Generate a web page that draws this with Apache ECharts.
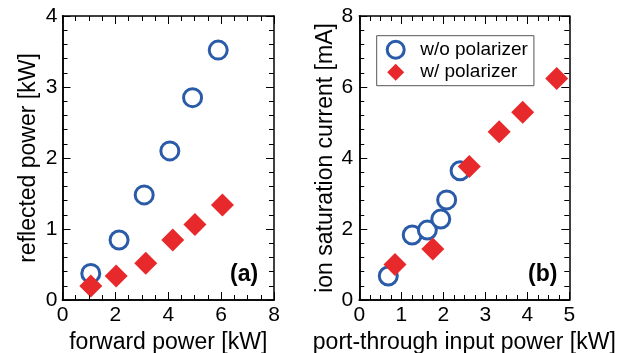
<!DOCTYPE html>
<html>
<head>
<meta charset="utf-8">
<script src="https://cdn.jsdelivr.net/npm/echarts@6/dist/echarts.min.js"></script>
<style>
  html, body { margin: 0; padding: 0; background: #fff; }
  #wrap { position: relative; width: 632px; height: 353px; }
  #chart, #frame { position: absolute; left: 0; top: 0; width: 632px; height: 353px; }
  #frame { pointer-events: none; }
</style>
</head>
<body>
<div id="wrap">
  <div id="chart"></div>
  <div id="frame"></div>
</div>
<script>
// panel (a): forward power vs reflected power
const fwdWithout = [1.07, 2.14, 3.09, 4.06, 4.92, 5.89];
const reflWithout = [0.375, 0.845, 1.48, 2.10, 2.85, 3.52];
const fwdWith = [1.07, 2.03, 3.15, 4.17, 5.01, 6.05];
const reflWith = [0.197, 0.338, 0.516, 0.845, 1.065, 1.337];

// panel (b): port-through input power vs ion saturation current
const inWithout = [0.69, 1.26, 1.62, 1.94, 2.08, 2.40];
const isatWithout = [0.676, 1.83, 1.97, 2.28, 2.82, 3.64];
const inWith = [0.85, 1.75, 2.62, 3.33, 3.89, 4.70];
const isatWith = [1.0, 1.44, 3.76, 4.74, 5.29, 6.24];

const seriesNames = ["w/o polarizer", "w/ polarizer"];

const BLUE = "#2a5ba8";
const RED = "#e8292c";
const FONT = "Liberation Sans";

// outerBoundsMode 'none': keep the plot boxes exactly where they are set
const grids = [
  { left: 62.5, top: 16, width: 211.5, height: 284, outerBoundsMode: "none", containLabel: false },
  { left: 359.3, top: 16, width: 210, height: 284, outerBoundsMode: "none", containLabel: false }
];

const pairs = (xs, ys) => xs.map((x, i) => [x, ys[i]]);

// axis carrying labels + title (ticks drawn by the frame chart on top)
function labelAxis(gridIndex, position, min, max, interval, name, nameGap, margin) {
  return {
    type: "value", gridIndex, position, min, max, interval,
    name: name,
    nameLocation: "middle",
    nameGap: nameGap,
    nameTextStyle: { fontFamily: FONT, fontSize: 23, color: "#000" },
    axisLine: { show: true, onZero: false, lineStyle: { color: "#000", width: 1.5 } },
    axisTick: { show: false },
    splitLine: { show: false },
    axisLabel: { fontFamily: FONT, fontSize: 21, color: "#000", margin: margin }
  };
}

// frame axis: line + inside major/minor ticks, no text
function tickAxis(gridIndex, position, min, max, interval, minorSplit) {
  return {
    type: "value", gridIndex, position, min, max, interval,
    axisLine: { show: true, onZero: false, lineStyle: { color: "#000", width: 1.5 } },
    axisTick: { show: true, inside: true, length: 8, lineStyle: { color: "#000", width: 1 } },
    minorTick: { show: true, splitNumber: minorSplit, length: 5, lineStyle: { color: "#000", width: 1 } },
    splitLine: { show: false },
    minorSplitLine: { show: false },
    axisLabel: { show: false }
  };
}

const chart = echarts.init(document.getElementById("chart"));
chart.setOption({
  animation: false,
  grid: grids,
  xAxis: [
    labelAxis(0, "bottom", 0, 8, 2, "forward power [kW]", 28, 5),
    labelAxis(1, "bottom", 0, 5, 1, "port-through input power [kW]", 28, 5)
  ],
  yAxis: [
    labelAxis(0, "left", 0, 4, 1, "reflected power [kW]", 22, 5),
    labelAxis(1, "left", 0, 8, 2, "ion saturation current [mA]", 22, 6)
  ],
  legend: {
    left: 376.7,
    top: 35.7,
    orient: "vertical",
    borderColor: "#555",
    borderWidth: 1,
    padding: [4, 6, 4, 9],
    itemGap: 3,
    itemWidth: 17,
    itemHeight: 17,
    textStyle: { fontFamily: FONT, fontSize: 19, color: "#000", padding: [0, 0, 0, 11] },
    data: [
      { name: seriesNames[0], icon: "circle", itemStyle: { color: "#fff", borderColor: BLUE, borderWidth: 3 } },
      { name: seriesNames[1], icon: "diamond", itemStyle: { color: RED, borderWidth: 0 } }
    ]
  },
  graphic: [
    { type: "text", left: 230, top: 263, style: { text: "(a)", fontFamily: FONT, fontSize: 23, fontWeight: "bold", fill: "#000" } },
    { type: "text", left: 528, top: 263, style: { text: "(b)", fontFamily: FONT, fontSize: 23, fontWeight: "bold", fill: "#000" } }
  ],
  series: [
    {
      name: seriesNames[0], type: "scatter", xAxisIndex: 0, yAxisIndex: 0,
      symbol: "circle", symbolSize: 18,
      itemStyle: { color: "#fff", borderColor: BLUE, borderWidth: 3, opacity: 1 },
      data: pairs(fwdWithout, reflWithout)
    },
    {
      name: seriesNames[1], type: "scatter", xAxisIndex: 0, yAxisIndex: 0,
      symbol: "diamond", symbolSize: 23,
      itemStyle: { color: RED, opacity: 1 },
      data: pairs(fwdWith, reflWith)
    },
    {
      name: seriesNames[0], type: "scatter", xAxisIndex: 1, yAxisIndex: 1,
      symbol: "circle", symbolSize: 18,
      itemStyle: { color: "#fff", borderColor: BLUE, borderWidth: 3, opacity: 1 },
      data: pairs(inWithout, isatWithout)
    },
    {
      name: seriesNames[1], type: "scatter", xAxisIndex: 1, yAxisIndex: 1,
      symbol: "diamond", symbolSize: 23,
      itemStyle: { color: RED, opacity: 1 },
      data: pairs(inWith, isatWith)
    }
  ]
});

// boxed frame with inside ticks on all four sides
const frame = echarts.init(document.getElementById("frame"));
frame.setOption({
  animation: false,
  backgroundColor: "transparent",
  grid: grids,
  xAxis: [
    tickAxis(0, "bottom", 0, 8, 2, 4),
    tickAxis(0, "top", 0, 8, 2, 4),
    tickAxis(1, "bottom", 0, 5, 1, 4),
    tickAxis(1, "top", 0, 5, 1, 4)
  ],
  yAxis: [
    tickAxis(0, "left", 0, 4, 1, 5),
    tickAxis(0, "right", 0, 4, 1, 5),
    tickAxis(1, "left", 0, 8, 2, 5),
    tickAxis(1, "right", 0, 8, 2, 5)
  ],
  series: [
    { type: "scatter", xAxisIndex: 0, yAxisIndex: 0, data: [] },
    { type: "scatter", xAxisIndex: 2, yAxisIndex: 2, data: [] }
  ]
});
</script>
</body>
</html>
